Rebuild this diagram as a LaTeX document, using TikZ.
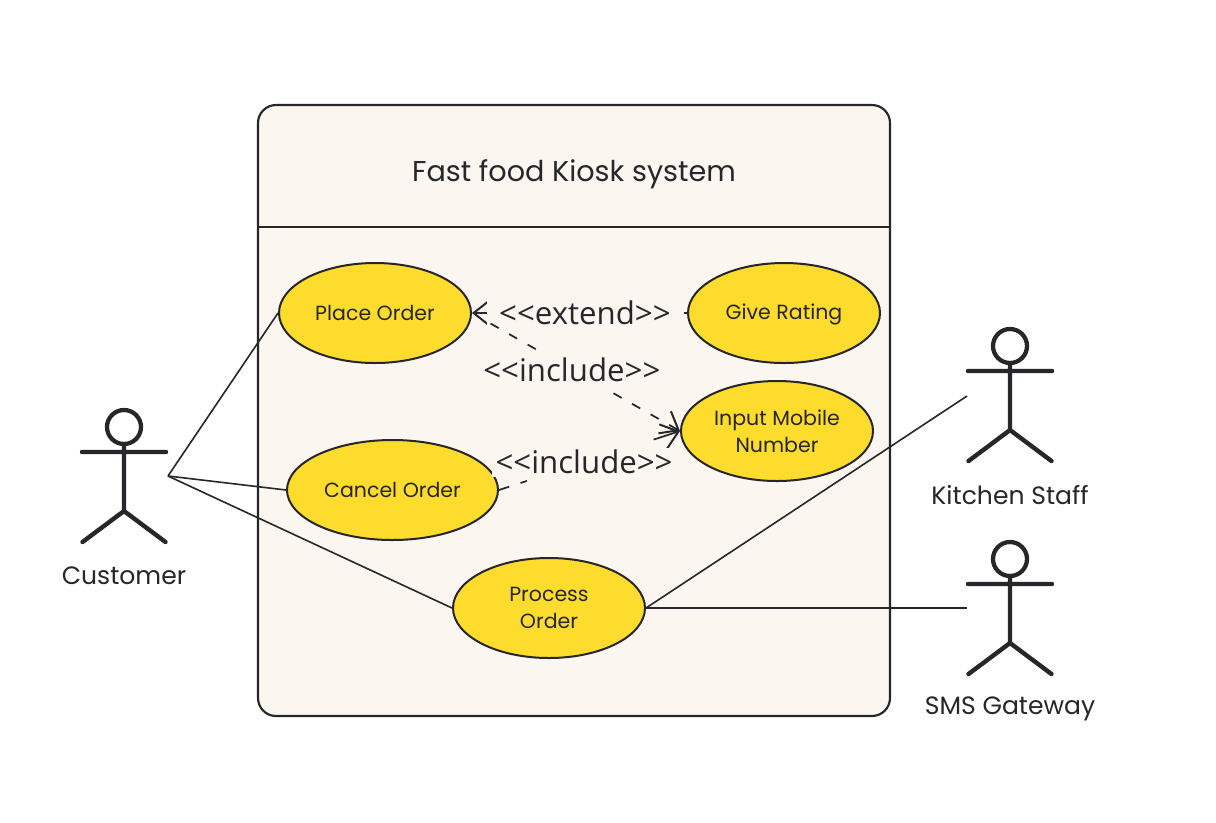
\documentclass[tikz,border=0pt]{standalone}
\usepackage{fontspec}
\setmainfont{Poppins}
\newfontfamily\labelfont{Open Sans}
\usetikzlibrary{shapes.geometric,arrows.meta}
\definecolor{ink}{HTML}{26262B}
\definecolor{paper}{HTML}{FBF7F0}
\definecolor{usecasefill}{HTML}{FEDC2E}
\tikzset{
  usecase/.style={ellipse,draw=ink,line width=1.5pt,fill=usecasefill,inner sep=0pt,
    minimum width=#1*0.75pt,minimum height=100*0.75pt,align=center,text=ink,
    font=\fontsize{15.4}{20}\selectfont},
  oneline/.style={execute at begin node={\rule[-3pt]{0pt}{16.5pt}}},
  assoc/.style={draw=ink,line width=1.2pt},
  depend/.style={draw=ink,line width=1.3pt,
    -{Straight Barb[length=12pt,width=19pt,line width=1.5pt]}},
  deplabel/.style={fill=paper,inner xsep=9pt,inner ysep=2pt,text=ink,
    font=\labelfont\fontsize{23.4}{26}\selectfont},
  actorline/.style={draw=ink,line width=3.3pt,line cap=round},
  actorlabel/.style={text=ink,font=\fontsize{18.8}{23}\selectfont},
}
\newcommand{\stickman}[3]{% name, x, y of head centre
  \node[circle,draw=ink,line width=3.2pt,fill=white,minimum size=25.5pt,inner sep=0pt] (#1head) at (#2,#3) {};
  \coordinate (#1neck) at (#2,#3+17);
  \coordinate (#1hip) at (#2,#3+84);
  \coordinate (#1la) at (#2-42,#3+25);
  \coordinate (#1ra) at (#2+42,#3+25);
  \coordinate (#1ll) at (#2-41.5,#3+115);
  \coordinate (#1rl) at (#2+41.5,#3+115);
  \draw[actorline] (#1neck) -- (#1hip) (#1la) -- (#1ra) (#1ll) -- (#1hip) -- (#1rl);
}
\begin{document}
\begin{tikzpicture}[x=0.75pt,y=-0.75pt]
\useasboundingbox (0,0) rectangle (1216,822);
\fill[white] (0,0) rectangle (1216,822);
% system
\draw[draw=ink,line width=1.6pt,fill=paper,rounded corners=13.5pt] (258,105) rectangle (890,716);
\coordinate (divl) at (258,227);
\coordinate (divr) at (890,227);
\draw[draw=ink,line width=1.3pt] (divl) -- (divr);
\node[text=ink,font=\fontsize{21.5}{28}\selectfont] (title) at (574,174) {Fast food Kiosk system};
% use cases
\node[usecase=192,oneline] (place) at (375,313) {Place Order};
\node[usecase=192,oneline] (rating) at (784,313) {Give Rating};
\node[usecase=192] (mobile) at (777,431) {Input Mobile\\Number};
\node[usecase=211,oneline] (cancel) at (392.5,490) {Cancel Order};
\node[usecase=192] (process) at (549,608) {Process\\Order};
% actors
\stickman{cust}{124}{427}
\stickman{kitchen}{1010}{346}
\stickman{sms}{1010}{559}
\node[actorlabel] (custlabel) at (124,576) {Customer};
\node[actorlabel] (kitchenlabel) at (1010,495) {Kitchen Staff};
\node[actorlabel] (smslabel) at (1010,709) {SMS Gateway};
\coordinate (custport) at (168,476);
\coordinate (kitchenport) at (967,396);
\coordinate (smsport) at (967,608);
% associations
\draw[assoc] (custport) -- (place.west);
\draw[assoc] (custport) -- (cancel.west);
\draw[assoc] (custport) -- (process.west);
\draw[assoc] (process.east) -- (kitchenport);
\draw[assoc] (process.east) -- (smsport);
% dependencies
\draw[depend,dash pattern=on 2pt off 146pt on 20pt] (rating.west) -- (place.east) node[pos=0.475,deplabel] (extendlabel) {<{}<extend>{}>};
\draw[depend,dash pattern=on 0pt off 16pt on 7pt off 9pt on 7pt off 9pt on 7pt off 67pt on 7pt off 9pt on 7pt off 9pt on 7pt off 9pt on 30pt] (place.east) -- (mobile.west) node[pos=0.48,deplabel,inner xsep=3pt] (includea) {<{}<include>{}>};
\draw[depend,dash pattern=on 8pt off 9pt on 5pt off 100pt on 30pt] (cancel.east) -- (mobile.west) node[pos=0.47,deplabel,inner xsep=3pt] (includeb) {<{}<include>{}>};
\end{tikzpicture}
\end{document}
